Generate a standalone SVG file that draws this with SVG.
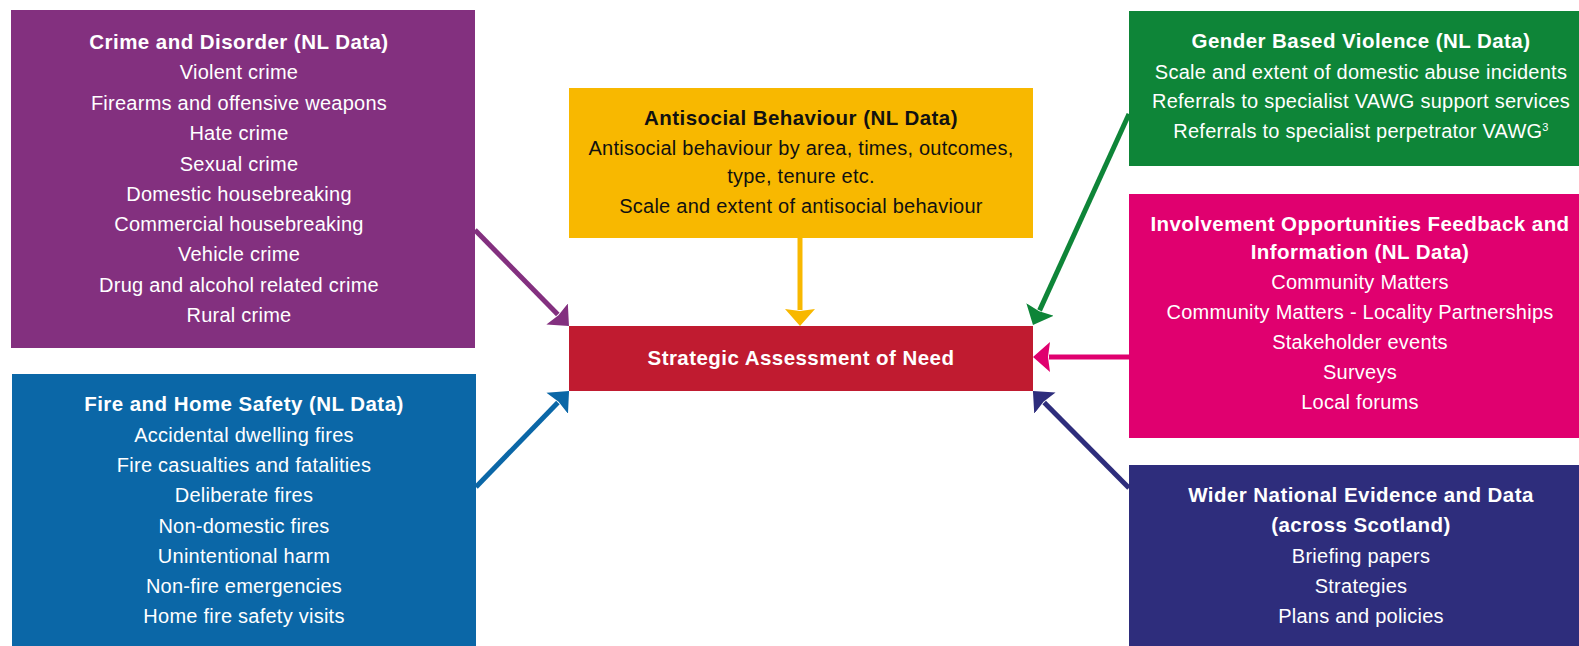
<svg xmlns="http://www.w3.org/2000/svg" width="1579" height="646" viewBox="0 0 1579 646">
<style>
  text { font-family: "Liberation Sans", Arial, sans-serif; text-anchor: middle; }
  .t { font-size: 20.5px; font-weight: bold; letter-spacing: 0.45px; }
  .b { font-size: 20px; letter-spacing: 0.25px; }
  .w { fill: #ffffff; }
  .k { fill: #111111; }
  .c { fill: none; stroke-width: 5; }
</style>
<defs>
  <marker id="mPurple" markerUnits="userSpaceOnUse" markerWidth="18" markerHeight="32" refX="1" refY="15" orient="auto" viewBox="0 0 18 30"><path d="M0,0 L17,15 L0,30 L2,15 z" fill="#83307f"/></marker>
  <marker id="mBlue" markerUnits="userSpaceOnUse" markerWidth="18" markerHeight="32" refX="1" refY="15" orient="auto" viewBox="0 0 18 30"><path d="M0,0 L17,15 L0,30 L2,15 z" fill="#0b67a7"/></marker>
  <marker id="mYellow" markerUnits="userSpaceOnUse" markerWidth="18" markerHeight="32" refX="1" refY="15" orient="auto" viewBox="0 0 18 30"><path d="M0,0 L17,15 L0,30 L2,15 z" fill="#f8b800"/></marker>
  <marker id="mGreen" markerUnits="userSpaceOnUse" markerWidth="18" markerHeight="32" refX="1" refY="15" orient="auto" viewBox="0 0 18 30"><path d="M0,0 L17,15 L0,30 L2,15 z" fill="#0e8538"/></marker>
  <marker id="mPink" markerUnits="userSpaceOnUse" markerWidth="18" markerHeight="32" refX="1" refY="15" orient="auto" viewBox="0 0 18 30"><path d="M0,0 L17,15 L0,30 L2,15 z" fill="#e0006f"/></marker>
  <marker id="mNavy" markerUnits="userSpaceOnUse" markerWidth="18" markerHeight="32" refX="1" refY="15" orient="auto" viewBox="0 0 18 30"><path d="M0,0 L17,15 L0,30 L2,15 z" fill="#2e2d7c"/></marker>
</defs>
<rect width="1579" height="646" fill="#ffffff"/>

<g id="connectors">
  <line class="c" x1="475" y1="230" x2="557.8" y2="314.6" stroke="#83307f" marker-end="url(#mPurple)"/>
  <line class="c" x1="476" y1="487" x2="557.9" y2="402.5" stroke="#0b67a7" marker-end="url(#mBlue)"/>
  <line class="c" x1="800" y1="238" x2="800" y2="310" stroke="#f8b800" marker-end="url(#mYellow)"/>
  <line class="c" x1="1129" y1="114" x2="1039.6" y2="310.4" stroke="#0e8538" marker-end="url(#mGreen)"/>
  <line class="c" x1="1129" y1="357" x2="1049" y2="357" stroke="#e0006f" marker-end="url(#mPink)"/>
  <line class="c" x1="1129" y1="488" x2="1044.2" y2="402.4" stroke="#2e2d7c" marker-end="url(#mNavy)"/>
</g>

<g id="crime">
  <rect x="11" y="10" width="464" height="338" fill="#83307f"/>
  <text class="t w" x="239" y="49">Crime and Disorder (NL Data)</text>
  <text class="b w" x="239" y="79">Violent crime</text>
  <text class="b w" x="239" y="110">Firearms and offensive weapons</text>
  <text class="b w" x="239" y="140">Hate crime</text>
  <text class="b w" x="239" y="171">Sexual crime</text>
  <text class="b w" x="239" y="201">Domestic housebreaking</text>
  <text class="b w" x="239" y="231">Commercial housebreaking</text>
  <text class="b w" x="239" y="261">Vehicle crime</text>
  <text class="b w" x="239" y="292">Drug and alcohol related crime</text>
  <text class="b w" x="239" y="322">Rural crime</text>
</g>

<g id="fire">
  <rect x="12" y="374" width="464" height="272" fill="#0b67a7"/>
  <text class="t w" x="244" y="411">Fire and Home Safety (NL Data)</text>
  <text class="b w" x="244" y="442">Accidental dwelling fires</text>
  <text class="b w" x="244" y="472">Fire casualties and fatalities</text>
  <text class="b w" x="244" y="502">Deliberate fires</text>
  <text class="b w" x="244" y="533">Non-domestic fires</text>
  <text class="b w" x="244" y="563">Unintentional harm</text>
  <text class="b w" x="244" y="593">Non-fire emergencies</text>
  <text class="b w" x="244" y="623">Home fire safety visits</text>
</g>

<g id="antisocial">
  <rect x="569" y="88" width="464" height="150" fill="#f8b800"/>
  <text class="t k" x="801" y="125">Antisocial Behaviour (NL Data)</text>
  <text class="b k" x="801" y="155">Antisocial behaviour by area, times, outcomes,</text>
  <text class="b k" x="801" y="183">type, tenure etc.</text>
  <text class="b k" x="801" y="213">Scale and extent of antisocial behaviour</text>
</g>

<g id="strategic">
  <rect x="569" y="326" width="464" height="65" fill="#c01b30"/>
  <text class="t w" x="801" y="365">Strategic Assessment of Need</text>
</g>

<g id="gender">
  <rect x="1129" y="11" width="450" height="155" fill="#0e8538"/>
  <text class="t w" x="1361" y="48">Gender Based Violence (NL Data)</text>
  <text class="b w" x="1361" y="79">Scale and extent of domestic abuse incidents</text>
  <text class="b w" x="1361" y="108">Referrals to specialist VAWG support services</text>
  <text class="b w" x="1361" y="138">Referrals to specialist perpetrator VAWG<tspan font-size="11" dy="-7">3</tspan></text>
</g>

<g id="involvement">
  <rect x="1129" y="194" width="450" height="244" fill="#e0006f"/>
  <text class="t w" x="1360" y="231">Involvement Opportunities Feedback and</text>
  <text class="t w" x="1360" y="259">Information (NL Data)</text>
  <text class="b w" x="1360" y="289">Community Matters</text>
  <text class="b w" x="1360" y="319">Community Matters - Locality Partnerships</text>
  <text class="b w" x="1360" y="349">Stakeholder events</text>
  <text class="b w" x="1360" y="379">Surveys</text>
  <text class="b w" x="1360" y="409">Local forums</text>
</g>

<g id="national">
  <rect x="1129" y="465" width="450" height="181" fill="#2e2d7c"/>
  <text class="t w" x="1361" y="502">Wider National Evidence and Data</text>
  <text class="t w" x="1361" y="532">(across Scotland)</text>
  <text class="b w" x="1361" y="563">Briefing papers</text>
  <text class="b w" x="1361" y="593">Strategies</text>
  <text class="b w" x="1361" y="623">Plans and policies</text>
</g>
</svg>
